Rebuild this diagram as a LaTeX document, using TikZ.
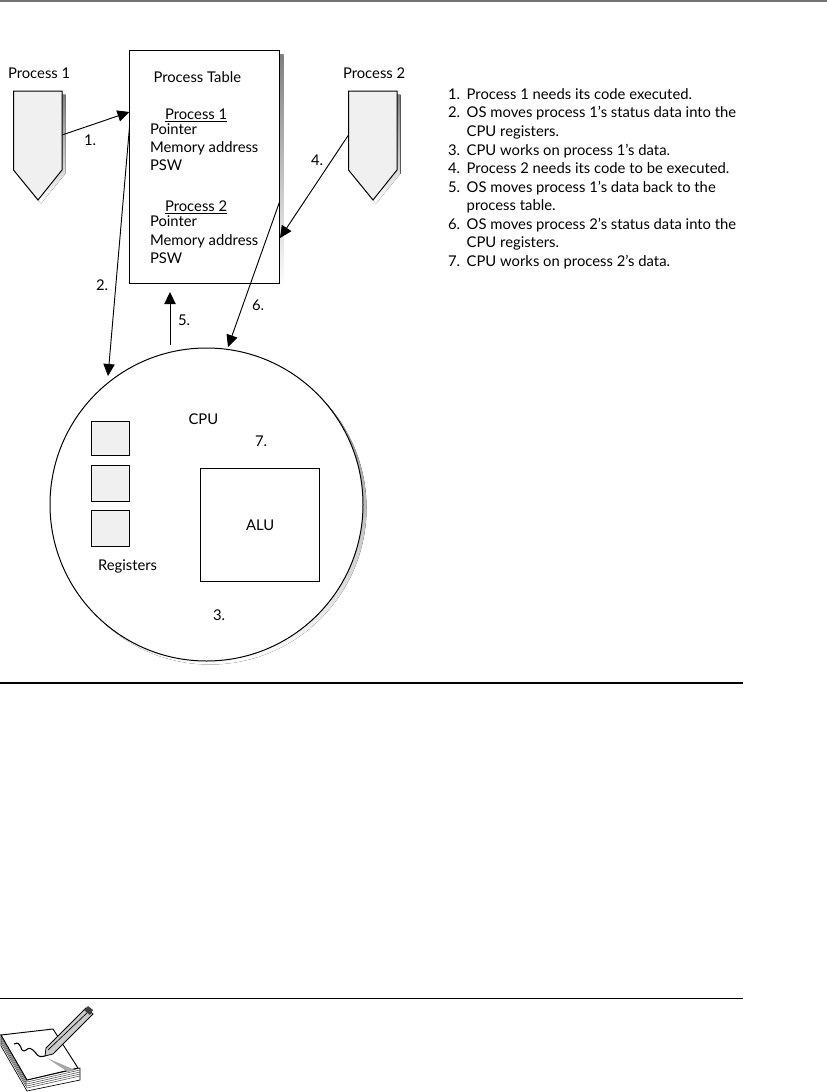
\documentclass[tikz,border=0pt]{standalone}
\usepackage{fontspec}
\setmainfont{Lato}
\usetikzlibrary{arrows.meta}
\definecolor{panel}{gray}{0.94}
\definecolor{shade}{gray}{0.72}
\tikzset{
 x=0.75pt,y=-0.75pt,
 txt/.style={anchor=base west,inner sep=0pt,outer sep=0pt,font=\fontsize{11.1}{12}\selectfont},
 lst/.style={txt},
 outline/.style={draw=black,line width=0.75pt,outer sep=0pt,inner sep=0pt},
 flow/.style={draw=black,line width=0.7pt,-{Triangle[length=9pt,width=8.5pt]}},
}
\begin{document}
\begin{tikzpicture}
\useasboundingbox (0,0) rectangle (827,1092);
\fill[black!55] (0,0) rectangle (827,2);
% process table
\fill[shade] (133.5,54.5) rectangle (283.5,288);
\node[outline,fill=white,anchor=north west,minimum width=112.5pt,minimum height=175.1pt] (ptable) at (129.5,50.5) {};
% process 1 and 2
\fill[shade] (17,94.5) -- (65.5,94.5) -- (65.5,173.5) -- (41,203.5) -- (17,173.5) -- cycle;
\draw[outline,fill=panel] (13.5,91) -- (62,91) -- (62,170) -- (38,200) -- (13.5,170) -- cycle;
\fill[shade] (352,94.5) -- (400.5,94.5) -- (400.5,173.5) -- (376,203.5) -- (352,173.5) -- cycle;
\draw[outline,fill=panel] (348.5,91) -- (397,91) -- (397,170) -- (373,200) -- (348.5,170) -- cycle;
% cpu
\fill[shade] (210,508) circle[radius=156.5];
\node[outline,fill=white,circle,minimum size=234.75pt] (cpu) at (206.5,504.5) {};
\node[outline,fill=panel,anchor=north west,minimum width=28.5pt,minimum height=26.2pt] (r1) at (91.5,421) {};
\node[outline,fill=panel,anchor=north west,minimum width=28.5pt,minimum height=27pt] (r2) at (91.5,465.5) {};
\node[outline,fill=panel,anchor=north west,minimum width=28.5pt,minimum height=27pt] (r3) at (91.5,510.5) {};
\node[outline,fill=white,anchor=north west,minimum width=89.25pt,minimum height=84.75pt] (alu) at (200.5,468.5) {};
% connector ends
\coordinate (p1out) at (62,135);
\coordinate (tin1) at (129.5,112);
\coordinate (tout2) at (129.5,127);
\coordinate (cin2) at (108,376);
\coordinate (p2out) at (348.5,135);
\coordinate (tin4) at (280,238);
\coordinate (cout5) at (170,345);
\coordinate (tin5) at (170,292);
\coordinate (tout6) at (279.5,202);
\coordinate (cin6) at (228,347);
\draw[flow] (p1out) -- (tin1);
\draw[flow] (tout2) -- (cin2);
\draw[flow] (p2out) -- (tin4);
\draw[flow] (cout5) -- (tin5);
\draw[flow] (tout6) -- (cin6);
% labels
\node[txt] (lp1) at (8,78.7) {Process 1};
\node[txt] (lp2) at (343,78.7) {Process 2};
\node[txt] (lpt) at (153.5,82) {Process Table};
\node[txt] (h1) at (165,119.3) {\underline{Process 1}};
\node[txt] (a1) at (150,134) {Pointer};
\node[txt] (a2) at (150,152.7) {Memory address};
\node[txt] (a3) at (150,170.7) {PSW};
\node[txt] (h2) at (165,211.7) {\underline{Process 2}};
\node[txt] (b1) at (150,226.7) {Pointer};
\node[txt] (b2) at (150,245) {Memory address};
\node[txt] (b3) at (150,263) {PSW};
\node[txt] (n1) at (84,145) {1.};
\node[txt] (n4) at (311,165) {4.};
\node[txt] (n2) at (96,290) {2.};
\node[txt] (n5) at (178,325) {5.};
\node[txt] (n6) at (252,310.7) {6.};
\node[txt] (lcpu) at (188.5,424) {CPU};
\node[txt] (n7) at (255,446.7) {7.};
\node[txt] (lalu) at (246,530) {ALU};
\node[txt] (lreg) at (98,570) {Registers};
\node[txt] (n3) at (213,620) {3.};
% list
\node[lst] (s1n) at (448,99) {1.};
\node[lst] (s1) at (466.7,99) {Process 1 needs its code executed.};
\node[lst] (s2n) at (448,117.7) {2.};
\node[lst] (s2) at (466.7,117.7) {OS moves process 1’s status data into the};
\node[lst] (s2b) at (466.7,136.3) {CPU registers.};
\node[lst] (s3n) at (448,155) {3.};
\node[lst] (s3) at (466.7,155) {CPU works on process 1’s data.};
\node[lst] (s4n) at (448,173.3) {4.};
\node[lst] (s4) at (466.7,173.3) {Process 2 needs its code to be executed.};
\node[lst] (s5n) at (448,192) {5.};
\node[lst] (s5) at (466.7,192) {OS moves process 1’s data back to the};
\node[lst] (s5b) at (466.7,210.7) {process table.};
\node[lst] (s6n) at (448,229) {6.};
\node[lst] (s6) at (466.7,229) {OS moves process 2’s status data into the};
\node[lst] (s6b) at (466.7,247.7) {CPU registers.};
\node[lst] (s7n) at (448,266.3) {7.};
\node[lst] (s7) at (466.7,266.3) {CPU works on process 2’s data.};
% rules
\fill[black] (0,682) rectangle (743,684);
\fill[black] (0,997.7) rectangle (743,998.7);
% note icon
\fill[white,draw=black,line width=0.5pt] (1,1035) -- (27,1080) -- (80,1068) -- (80,1080) -- (27,1091) -- (1,1046) -- cycle;
\foreach \d in {2,4,6,8}{\draw[black!70,line width=0.4pt] (1,1035+\d) -- (27,1080+\d) -- (80,1068+\d);}
\draw[black,fill=white,line width=0.7pt] (1,1035) -- (53,1029) -- (78,1068) -- (27,1080) -- cycle;
\fill[black!35] (47,1058) -- (75,1070) -- (68,1072) -- cycle;
\draw[black,line width=0.8pt] (14,1044) .. controls (22,1040) and (20,1052) .. (24,1051) .. controls (28,1050) and (28,1046) .. (33,1050) .. controls (38,1054) and (36,1058) .. (45,1056);
\draw[black,fill=black!20,line width=0.6pt] (45,1056) -- (46,1048) -- (86,1008) -- (93,1014) -- (53,1054) -- cycle;
\draw[black,line width=0.5pt] (48,1050) -- (89,1011);
\fill[black!75] (84,1010) -- (88,1006) -- (93,1010) -- (90,1015) -- cycle;
\end{tikzpicture}
\end{document}
